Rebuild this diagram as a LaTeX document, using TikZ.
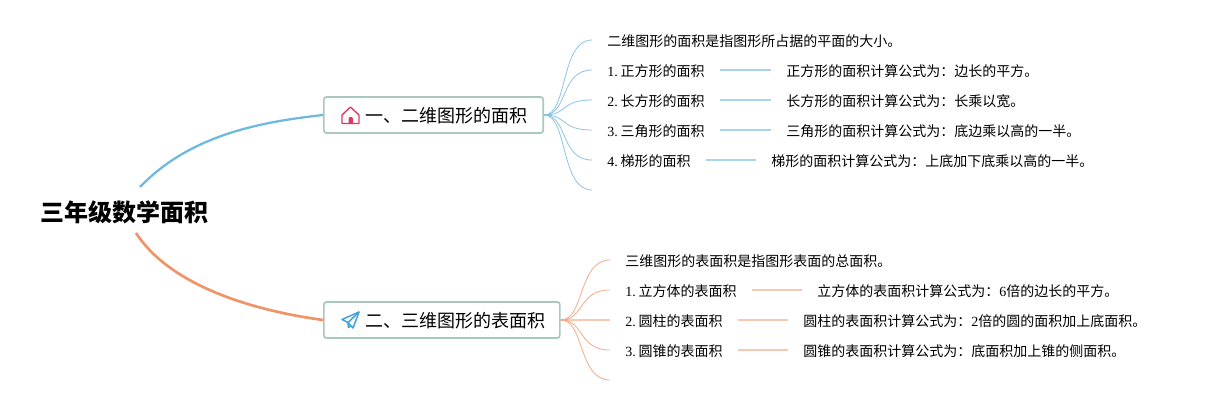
\documentclass[tikz,border=0pt]{standalone}
\usepackage{fontspec}
\setmainfont{Liberation Serif}
\newfontfamily\cjk{Noto Sans CJK SC}
\definecolor{bluemain}{HTML}{6DB9E0}
\definecolor{bluesub}{HTML}{8CC4E6}
\definecolor{bluelink}{HTML}{A9D6EC}
\definecolor{orangemain}{HTML}{F09468}
\definecolor{orangesub}{HTML}{F4A988}
\definecolor{orangelink}{HTML}{F8C8B2}
\definecolor{boxedge}{HTML}{A9C8C0}
\definecolor{houseicon}{HTML}{D93A63}
\definecolor{planeicon}{HTML}{3DA0DC}
\tikzset{
  rootnode/.style={font=\cjk\bfseries\fontsize{18pt}{20pt}\selectfont, inner sep=0pt},
  topicbox/.style={draw=boxedge, line width=1.3pt, rounded corners=2pt, minimum height=27pt, inner sep=0pt, anchor=west},
  topictext/.style={font=\cjk\fontsize{13.5pt}{16pt}\selectfont, inner sep=0pt, anchor=west},
  leafnode/.style={font=\fontsize{10.5pt}{12pt}\selectfont, inner xsep=11.25pt, inner ysep=2pt, text height=10.8pt, text depth=1.5pt, anchor=west},
  mainline/.style={line width=1.7pt},
  subline/.style={line width=0.6pt},
  linkline/.style={line width=1pt}
}
\begin{document}
\begin{tikzpicture}[x=0.75pt,y=-0.75pt]
  \useasboundingbox (0,0) rectangle (1206,405);
  \node[rootnode] (root) at (124.5,212) {三年级数学面积};
  \coordinate (rootup) at (140,187);
  \coordinate (rootdown) at (136,233);

  \node[topicbox, minimum width=164.5pt] (areabox) at (323,115) {};
  \node[topictext] (areatext) at (365,116) {一、二维图形的面积};
  \node[topicbox, minimum width=177pt] (surfbox) at (323,320) {};
  \node[topictext] (surftext) at (365,321) {二、三维图形的表面积};

  \draw[mainline, bluemain] (rootup) .. controls (190,135) and (260,122) .. (areabox.west);
  \draw[mainline, orangemain, line width=2pt] (rootdown) .. controls (170,285) and (250,310) .. (surfbox.west);

  \draw[line width=1pt, draw=houseicon, line join=round] (342,123.5) -- (342,115) -- (350.5,107) -- (359,115) -- (359,123.5) -- cycle;
  \fill[houseicon] (348.5,123.5) -- (348.5,119) arc[start angle=180, end angle=0, radius=1.7pt] -- (353,123.5) -- cycle;
  \draw[line width=1.1pt, draw=planeicon, line join=round] (359,312) -- (342,319.5) -- (348,322.5) -- (353,328) -- cycle;
  \draw[line width=1.1pt, draw=planeicon, line join=round] (359,312) -- (348,322.5) -- (348.5,327.5) -- (351,325.5);

  \node[leafnode] (a0) at (592,40) {\cjk 二维图形的面积是指图形所占据的平面的大小。};
  \node[leafnode] (a1) at (592,70) {1.\hspace{2.2pt}{\cjk 正方形的面积}};
  \node[leafnode] (a2) at (592,100) {2.\hspace{2.2pt}{\cjk 长方形的面积}};
  \node[leafnode] (a3) at (592,130) {3.\hspace{2.2pt}{\cjk 三角形的面积}};
  \node[leafnode] (a4) at (592,160) {4.\hspace{2.2pt}{\cjk 梯形的面积}};
  \coordinate (a5) at (592,190);
  \node[leafnode] (f1) at (771,70) {\cjk 正方形的面积计算公式为：边长的平方。};
  \node[leafnode] (f2) at (771,100) {\cjk 长方形的面积计算公式为：长乘以宽。};
  \node[leafnode] (f3) at (771,130) {\cjk 三角形的面积计算公式为：底边乘以高的一半。};
  \node[leafnode] (f4) at (756,160) {\cjk 梯形的面积计算公式为：上底加下底乘以高的一半。};

  \node[leafnode] (b0) at (610,260) {\cjk 三维图形的表面积是指图形表面的总面积。};
  \node[leafnode] (b1) at (610,290) {1.\hspace{2.2pt}{\cjk 立方体的表面积}};
  \node[leafnode] (b2) at (610,320) {2.\hspace{2.2pt}{\cjk 圆柱的表面积}};
  \node[leafnode] (b3) at (610,350) {3.\hspace{2.2pt}{\cjk 圆锥的表面积}};
  \coordinate (b4) at (610,380);
  \node[leafnode] (g1) at (802,290) {{\cjk 立方体的表面积计算公式为：}6{\cjk 倍的边长的平方。}};
  \node[leafnode] (g2) at (788,320) {{\cjk 圆柱的表面积计算公式为：}2{\cjk 倍的圆的面积加上底面积。}};
  \node[leafnode] (g3) at (788,350) {\cjk 圆锥的表面积计算公式为：底面积加上锥的侧面积。};

  \foreach \leaf in {a0.west,a1.west,a2.west,a3.west,a4.west,a5}
    \draw[subline, bluesub] (areabox.east) .. controls +(24,0) and +(-32,0) .. (\leaf);
  \foreach \leaf in {b0.west,b1.west,b3.west,b4}
    \draw[subline, orangesub] (surfbox.east) .. controls +(24,0) and +(-32,0) .. (\leaf);
  \draw[linkline, orangelink] (surfbox.east) -- (b2.west);
  \draw[line width=1.2pt, bluesub] (areabox.east) -- +(7,0);
  \draw[line width=1.2pt, orangesub] (surfbox.east) -- +(7,0);

  \draw[linkline, bluelink] (a1.east) -- (f1.west);
  \draw[linkline, bluelink] (a2.east) -- (f2.west);
  \draw[linkline, bluelink] (a3.east) -- (f3.west);
  \draw[linkline, bluelink] (a4.east) -- (f4.west);
  \draw[linkline, orangelink] (b1.east) -- (g1.west);
  \draw[linkline, orangelink] (b2.east) -- (g2.west);
  \draw[linkline, orangelink] (b3.east) -- (g3.west);
\end{tikzpicture}
\end{document}
